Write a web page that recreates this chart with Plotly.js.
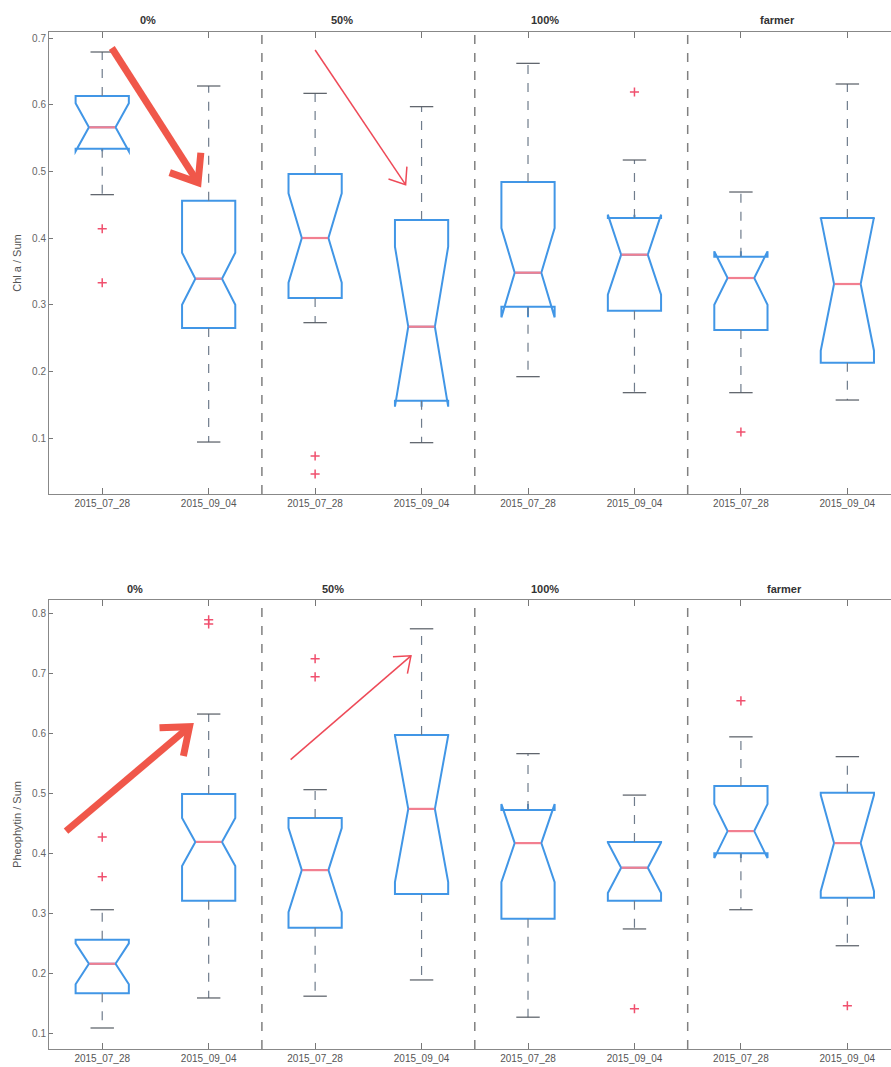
<!DOCTYPE html>
<html>
<head>
<meta charset="utf-8">
<script src="https://cdn.plot.ly/plotly-3.0.1.min.js"></script>
<style>html,body{margin:0;padding:0;background:#fff;overflow:hidden}#chart{width:891px;height:1067px}</style>
</head>
<body>
<div id="chart"></div>
<script>
// ---------------- DATA ----------------
const xLabels = ['2015_07_28','2015_09_04','2015_07_28','2015_09_04','2015_07_28','2015_09_04','2015_07_28','2015_09_04'];
const groupNames = ['0%','50%','100%','farmer'];

// Chl a / Sum (top panel)
const chlLower  = [0.465, 0.094, 0.273, 0.093, 0.192, 0.168, 0.168, 0.157];
const chlQ1     = [0.534, 0.265, 0.310, 0.156, 0.297, 0.291, 0.262, 0.213];
const chlMedian = [0.566, 0.339, 0.400, 0.267, 0.348, 0.375, 0.340, 0.331];
const chlQ3     = [0.613, 0.456, 0.496, 0.427, 0.484, 0.430, 0.372, 0.430];
const chlUpper  = [0.679, 0.628, 0.617, 0.597, 0.662, 0.517, 0.469, 0.631];
const chlNotch  = [0.036, 0.039, 0.067, 0.120, 0.067, 0.060, 0.040, 0.100];
const chlOutBox = [1, 1, 3, 3, 6, 7];
const chlOutVal = [0.414, 0.333, 0.073, 0.046, 0.619, 0.109];

// Pheophytin / Sum (bottom panel)
const pheLower  = [0.110, 0.160, 0.163, 0.190, 0.128, 0.275, 0.307, 0.247];
const pheQ1     = [0.168, 0.322, 0.277, 0.333, 0.292, 0.322, 0.401, 0.327];
const pheMedian = [0.217, 0.420, 0.373, 0.475, 0.418, 0.377, 0.438, 0.418];
const pheQ3     = [0.257, 0.500, 0.460, 0.598, 0.473, 0.420, 0.513, 0.502];
const pheUpper  = [0.307, 0.633, 0.507, 0.775, 0.567, 0.498, 0.595, 0.562];
const pheNotch  = [0.034, 0.040, 0.070, 0.122, 0.065, 0.042, 0.045, 0.080];
const pheOutBox = [1, 1, 2, 2, 3, 3, 6, 7, 8];
const pheOutVal = [0.428, 0.362, 0.790, 0.783, 0.725, 0.695, 0.142, 0.655, 0.147];

// ---------------- STYLE / LAYOUT CONSTANTS ----------------
const W = 891, H = 1067;
const M = {l: 49, r: 0, t: 32, b: 18};
const xRange = [0.5, 8.41];
const yRangeTop = [0.016, 0.709];
const yRangeBot = [0.075, 0.823];
const domTop = [0.5457, 1];
const domBot = [0, 0.4415];
const BOX_BLUE = '#4196e6';
const WHISK = '#6f7c8c';
const MED_RED = '#f27f90';
const OUT_RED = '#f0506e';
const xPos = xLabels.map((_, i) => i + 1);

function panelTraces(lo, q1, med, q3, hi, notch, outBox, outVal, xa, ya) {
  const wx = [], wy = [], cx = [], cy = [], mx = [], my = [];
  xPos.forEach((x, i) => {
    wx.push(x, x, null, x, x, null);
    wy.push(q3[i], hi[i], null, q1[i], lo[i], null);
    cx.push(x - 0.11, x + 0.11, null, x - 0.11, x + 0.11, null);
    cy.push(hi[i], hi[i], null, lo[i], lo[i], null);
    mx.push(x - 0.12, x + 0.12, null);
    my.push(med[i], med[i], null);
  });
  return [
    {type: 'scatter', mode: 'lines', x: wx, y: wy, xaxis: xa, yaxis: ya, hoverinfo: 'skip',
     line: {color: WHISK, width: 1.2, dash: 'dash'}, showlegend: false},
    {type: 'scatter', mode: 'lines', x: cx, y: cy, xaxis: xa, yaxis: ya, hoverinfo: 'skip',
     line: {color: '#555b63', width: 1.2}, showlegend: false},
    {type: 'box', x: xPos, q1: q1, median: med, q3: q3, lowerfence: q1, upperfence: q3,
     notched: true, notchspan: notch, notchwidth: 0.25, width: 0.5, whiskerwidth: 0,
     boxpoints: false, xaxis: xa, yaxis: ya,
     line: {color: BOX_BLUE, width: 2}, fillcolor: 'rgba(0,0,0,0)', showlegend: false},
    {type: 'scatter', mode: 'lines', x: mx, y: my, xaxis: xa, yaxis: ya, hoverinfo: 'skip',
     line: {color: MED_RED, width: 2.2}, showlegend: false},
    {type: 'scatter', mode: 'markers', x: outBox, y: outVal, xaxis: xa, yaxis: ya,
     marker: {symbol: 'cross-thin-open', size: 6.5, line: {color: OUT_RED, width: 1.5}, color: OUT_RED},
     showlegend: false}
  ];
}

const traces = [].concat(
  panelTraces(chlLower, chlQ1, chlMedian, chlQ3, chlUpper, chlNotch, chlOutBox, chlOutVal, 'x', 'y'),
  panelTraces(pheLower, pheQ1, pheMedian, pheQ3, pheUpper, pheNotch, pheOutBox, pheOutVal, 'x2', 'y2')
);

// ---------------- ANNOTATION SHAPES (separators + arrows) ----------------
const shapes = [];
[2.5, 4.5, 6.5].forEach(s => {
  [['x', 'y domain'], ['x2', 'y2 domain']].forEach(([xr, yr]) => {
    shapes.push({type: 'line', xref: xr, yref: yr, x0: s, x1: s, y0: 0, y1: 1,
                 line: {color: '#808080', width: 1.5, dash: 'dash'}});
  });
});

const plotW = W - M.l - M.r, plotH = H - M.t - M.b;
const sx = plotW / (xRange[1] - xRange[0]);
function arrow(xr, yr, yRange, dom, xs, ys, xt, yt, width, color, headLen) {
  const sy = plotH * (dom[1] - dom[0]) / (yRange[1] - yRange[0]);
  shapes.push({type: 'line', xref: xr, yref: yr, x0: xs, y0: ys, x1: xt, y1: yt,
               line: {color: color, width: width}});
  let dx = (xs - xt) * sx, dy = (ys - yt) * sy;
  const n = Math.hypot(dx, dy); dx /= n; dy /= n;
  const th = 38 * Math.PI / 180;
  const a1x = headLen * (dx * Math.cos(th) - dy * Math.sin(th));
  const a1y = headLen * (dx * Math.sin(th) + dy * Math.cos(th));
  const a2x = headLen * (dx * Math.cos(-th) - dy * Math.sin(-th));
  const a2y = headLen * (dx * Math.sin(-th) + dy * Math.cos(-th));
  shapes.push({type: 'path', xref: xr, yref: yr, xsizemode: 'pixel', ysizemode: 'pixel',
               xanchor: xt, yanchor: yt,
               path: `M ${a1x.toFixed(1)},${a1y.toFixed(1)} L 0,0 L ${a2x.toFixed(1)},${a2y.toFixed(1)}`,
               fillcolor: 'rgba(0,0,0,0)', line: {color: color, width: width}});
}
arrow('x', 'y', yRangeTop, domTop, 1.09, 0.685, 1.90, 0.483, 7, '#f0574a', 30);
arrow('x', 'y', yRangeTop, domTop, 3.00, 0.682, 3.85, 0.480, 1.5, '#ee4a58', 18);
arrow('x2', 'y2', yRangeBot, domBot, 0.66, 0.438, 1.82, 0.612, 7, '#f0574a', 30);
arrow('x2', 'y2', yRangeBot, domBot, 2.77, 0.557, 3.90, 0.730, 1.5, '#ee4a58', 18);

// group labels
const annotations = [];
const grpX = [1.43, 3.25, 5.16, 7.34];
const grpX2 = [1.31, 3.17, 5.16, 7.41];
groupNames.forEach((g, i) => {
  annotations.push({text: '<b>' + g + '</b>', xref: 'x', yref: 'paper', x: grpX[i], y: 1.0118,
                    showarrow: false, font: {size: 11, color: '#333'}, yanchor: 'middle'});
  annotations.push({text: '<b>' + g + '</b>', xref: 'x2', yref: 'paper', x: grpX2[i], y: 0.4523,
                    showarrow: false, font: {size: 11, color: '#333'}, yanchor: 'middle'});
});

function xAxis(anchor) {
  return {anchor: anchor, range: xRange, tickvals: xPos, ticktext: xLabels,
          ticks: 'inside', ticklen: 6, tickcolor: '#777', showline: true, linecolor: '#888', linewidth: 1,
          mirror: 'ticks', showgrid: false, zeroline: false,
          tickfont: {size: 10, color: '#555'}};
}
function yAxis(anchor, range, dom, title) {
  return {anchor: anchor, range: range, domain: dom, dtick: 0.1, tick0: 0, tickformat: '.1f',
          ticks: 'inside', ticklen: 4, tickcolor: '#777', showline: true, linecolor: '#888', linewidth: 1,
          showgrid: false, zeroline: false, tickfont: {size: 10, color: '#666'},
          title: {text: title, font: {size: 11, color: '#555'}, standoff: 8}};
}

const layout = {
  width: W, height: H,
  margin: M,
  paper_bgcolor: '#fff', plot_bgcolor: '#fff',
  font: {family: 'Liberation Sans, Arial, sans-serif'},
  showlegend: false,
  xaxis: xAxis('y'),
  yaxis: yAxis('x', yRangeTop, domTop, 'Chl a / Sum'),
  xaxis2: xAxis('y2'),
  yaxis2: yAxis('x2', yRangeBot, domBot, 'Pheophytin / Sum'),
  shapes: shapes,
  annotations: annotations
};

Plotly.newPlot('chart', traces, layout, {displayModeBar: false, staticPlot: true});
</script>
</body>
</html>
